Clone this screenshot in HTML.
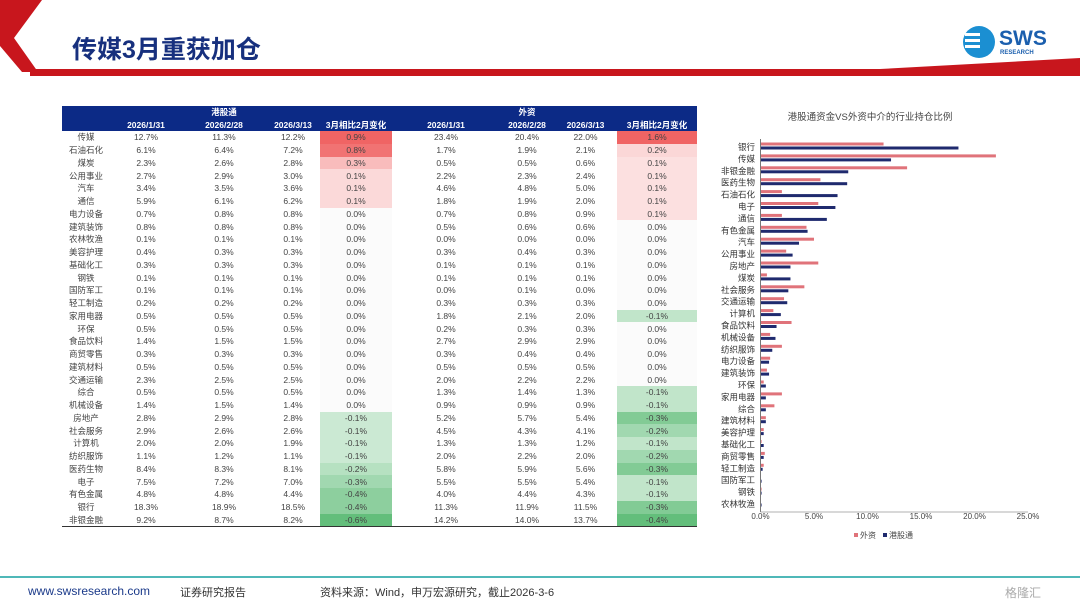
<!DOCTYPE html>
<html><head><meta charset="utf-8">
<style>
body{margin:0;width:1080px;height:608px;overflow:hidden;background:#fff;font-family:"Liberation Sans","Noto Sans CJK SC",sans-serif;position:relative}
.abs{position:absolute}
table{border-collapse:collapse;table-layout:fixed}
td{padding:0;height:12.75px;font-size:8.5px;color:#444;text-align:center;line-height:12px;white-space:nowrap;overflow:hidden}
th{background:#0c2a86;color:#fff;font-size:8.5px;font-weight:bold;height:12.5px;padding:0;line-height:12px}
</style></head><body>
<svg class="abs" style="left:0;top:0" width="1080" height="90">
<polygon points="0,0 42,0 14,38 38,72 22,72 0,46" fill="#c8161d"/>
<rect x="30" y="69" width="1050" height="7" fill="#c8161d"/>
<polygon points="880,69 1080,58 1080,76 880,76" fill="#c8161d"/>
<circle cx="979" cy="42" r="16" fill="#1b8fd2"/>
<rect x="965" y="33" width="15" height="3" fill="#fff"/><rect x="965" y="39" width="15" height="3" fill="#fff"/><rect x="965" y="45" width="15" height="3" fill="#fff"/>
</svg>
<div class="abs" style="left:72px;top:30px;font-size:25px;font-weight:bold;color:#17307e;font-family:'Liberation Sans','Noto Sans CJK SC',sans-serif">传媒3月重获加仓</div>
<div class="abs" style="left:999px;top:27px;font-size:21px;font-weight:bold;color:#1b5fae">SWS</div>
<div class="abs" style="left:1000px;top:50px;font-size:6px;font-weight:bold;color:#1b5fae">RESEARCH</div>

<table class="abs" id="tbl" style="left:62px;top:106px;width:635px">
<colgroup><col style="width:48px"><col style="width:72px"><col style="width:84px"><col style="width:54px"><col style="width:72px"><col style="width:108px"><col style="width:54px"><col style="width:63px"><col style="width:80px"></colgroup>
<tr><th></th><th></th><th>港股通</th><th></th><th></th><th></th><th>外资</th><th></th><th></th></tr>
<tr><th></th><th>2026/1/31</th><th>2026/2/28</th><th>2026/3/13</th><th>3月相比2月变化</th><th>2026/1/31</th><th>2026/2/28</th><th>2026/3/13</th><th>3月相比2月变化</th></tr>
</table>

<svg class="abs" id="chart" style="left:700px;top:100px" width="380" height="460"></svg>

<div class="abs" style="left:0;top:576px;width:1080px;height:2px;background:#4fb8b8"></div>
<div class="abs" style="left:28px;top:584px;font-size:12px;color:#1b3a8a">www.swsresearch.com</div>
<div class="abs" style="left:180px;top:584px;font-size:11px;color:#333">证券研究报告</div>
<div class="abs" style="left:320px;top:584px;font-size:11px;color:#333">资料来源：Wind，申万宏源研究，截止2026-3-6</div>
<div class="abs" style="left:1005px;top:584px;font-size:12px;color:#aaa">格隆汇</div>

<script>
const industries=["传媒","石油石化","煤炭","公用事业","汽车","通信","电力设备","建筑装饰","农林牧渔","美容护理","基础化工","钢铁","国防军工","轻工制造","家用电器","环保","食品饮料","商贸零售","建筑材料","交通运输","综合","机械设备","房地产","社会服务","计算机","纺织服饰","医药生物","电子","有色金属","银行","非银金融"];
const hk131=[12.7,6.1,2.3,2.7,3.4,5.9,0.7,0.8,0.1,0.4,0.3,0.1,0.1,0.2,0.5,0.5,1.4,0.3,0.5,2.3,0.5,1.4,2.8,2.9,2.0,1.1,8.4,7.5,4.8,18.3,9.2];
const hk228=[11.3,6.4,2.6,2.9,3.5,6.1,0.8,0.8,0.1,0.3,0.3,0.1,0.1,0.2,0.5,0.5,1.5,0.3,0.5,2.5,0.5,1.5,2.9,2.6,2.0,1.2,8.3,7.2,4.8,18.9,8.7];
const hk313=[12.2,7.2,2.8,3.0,3.6,6.2,0.8,0.8,0.1,0.3,0.3,0.1,0.1,0.2,0.5,0.5,1.5,0.3,0.5,2.5,0.5,1.4,2.8,2.6,1.9,1.1,8.1,7.0,4.4,18.5,8.2];
const hkChg=[0.9,0.8,0.3,0.1,0.1,0.1,0,0,0,0,0,0,0,0,0,0,0,0,0,0,0,0,-0.1,-0.1,-0.1,-0.1,-0.2,-0.3,-0.4,-0.4,-0.6];
const fx131=[23.4,1.7,0.5,2.2,4.6,1.8,0.7,0.5,0.0,0.3,0.1,0.1,0.0,0.3,1.8,0.2,2.7,0.3,0.5,2.0,1.3,0.9,5.2,4.5,1.3,2.0,5.8,5.5,4.0,11.3,14.2];
const fx228=[20.4,1.9,0.5,2.3,4.8,1.9,0.8,0.6,0.0,0.4,0.1,0.1,0.1,0.3,2.1,0.3,2.9,0.4,0.5,2.2,1.4,0.9,5.7,4.3,1.3,2.2,5.9,5.5,4.4,11.9,14.0];
const fx313=[22.0,2.1,0.6,2.4,5.0,2.0,0.9,0.6,0.0,0.3,0.1,0.1,0.0,0.3,2.0,0.3,2.9,0.4,0.5,2.2,1.3,0.9,5.4,4.1,1.2,2.0,5.6,5.4,4.3,11.5,13.7];
const fxChg=[1.6,0.2,0.1,0.1,0.1,0.1,0.1,0,0,0,0,0,0,0,-0.1,0,0,0,0,0,-0.1,-0.1,-0.3,-0.2,-0.1,-0.2,-0.3,-0.1,-0.1,-0.3,-0.4];

function mix(c,t){return 'rgb('+c.map(v=>Math.round(255+(v-255)*t)).join(',')+')';}
function shade(v,arr){const mx=Math.max(...arr),mn=Math.min(...arr);
 if(v>0)return mix([240,100,100],0.15+0.85*v/mx);
 if(v<0)return mix([99,190,123],0.2+0.8*v/mn);return '#fbfbfb';}
const tbl=document.getElementById('tbl');
industries.forEach((n,i)=>{
 const tr=document.createElement('tr');
 
 
 const vals=[hk131[i],hk228[i],hk313[i],hkChg[i],fx131[i],fx228[i],fx313[i],fxChg[i]];
 let h='<td>'+n+'</td>';
 vals.forEach((v,j)=>{let st='';if(j==3)st=' style="background:'+shade(v,hkChg)+'"';if(j==7)st=' style="background:'+shade(v,fxChg)+'"';h+='<td'+st+'>'+v.toFixed(1)+'%</td>';});
 tr.innerHTML=h;tbl.appendChild(tr);
});
const bl=document.createElement('tr');bl.innerHTML='<td colspan="9" style="height:1px;line-height:1px;background:#333"></td>';tbl.appendChild(bl);

// chart
const catC=["银行","传媒","非银金融","医药生物","石油石化","电子","通信","有色金属","汽车","公用事业","房地产","煤炭","社会服务","交通运输","计算机","食品饮料","机械设备","纺织服饰","电力设备","建筑装饰","环保","家用电器","综合","建筑材料","美容护理","基础化工","商贸零售","轻工制造","国防军工","钢铁","农林牧渔"];
const fxC=[11.5,22.0,13.7,5.6,2.0,5.4,2.0,4.3,5.0,2.4,5.4,0.6,4.1,2.2,1.2,2.9,0.9,2.0,0.9,0.6,0.3,2.0,1.3,0.5,0.3,0.1,0.4,0.3,0.0,0.1,0.0];
const hkC=[18.5,12.2,8.2,8.1,7.2,7.0,6.2,4.4,3.6,3.0,2.8,2.8,2.6,2.5,1.9,1.5,1.4,1.1,0.8,0.8,0.5,0.5,0.5,0.5,0.3,0.3,0.3,0.2,0.1,0.1,0.1];
const ticks=["0.0%","5.0%","10.0%","15.0%","20.0%","25.0%"];
const tickVals=[0,5,10,15,20,25];
const svg=document.getElementById('chart');const NS='http://www.w3.org/2000/svg';
const x0=60.5,xs=10.7,y0=47,yStep=(404-47)/(catC.length-1);
const X=v=>x0+v*xs, Y=i=>y0+i*yStep;
function el(t,a,txt){const e=document.createElementNS(NS,t);for(const k in a)e.setAttribute(k,a[k]);if(txt!=null)e.textContent=txt;svg.appendChild(e);return e;}
let t=el('text',{x:170,y:20,'font-size':9.5,'text-anchor':'middle',fill:'#444'},'港股通资金VS外资中介的行业持仓比例');


catC.forEach((c,i)=>{
 let r=el('rect',{x:X(0),y:Y(i)-4.5,width:X(fxC[i])-X(0),height:3,fill:'#e0737a'});
 
 
 let b=el('rect',{x:X(0),y:Y(i)-0.5,width:X(hkC[i])-X(0),height:3,fill:'#1f2a6e'});
 
 
 let l=el('text',{x:55,y:Y(i)+3,'font-size':8.5,'text-anchor':'end',fill:'#333'},c);
 
 
});
el('line',{x1:x0,y1:Y(0)-8,x2:x0,y2:Y(catC.length-1)+8,stroke:'#777','stroke-width':1});
el('line',{x1:x0,y1:Y(catC.length-1)+8,x2:X(25),y2:Y(catC.length-1)+8,stroke:'#999','stroke-width':0.8});
tickVals.forEach((v,i)=>{let k=el('text',{x:X(v),y:419,'font-size':8,'text-anchor':'middle',fill:'#444'},ticks[i]);
 
 });
el('rect',{x:154,y:433,width:4,height:4,fill:'#e0737a'});
let lg1=el('text',{x:160,y:438,'font-size':8,fill:'#444'},'外资');


el('rect',{x:183,y:433,width:4,height:4,fill:'#1f2a6e'});
let lg2=el('text',{x:189,y:438,'font-size':8,fill:'#444'},'港股通');


</script>
</body></html>
